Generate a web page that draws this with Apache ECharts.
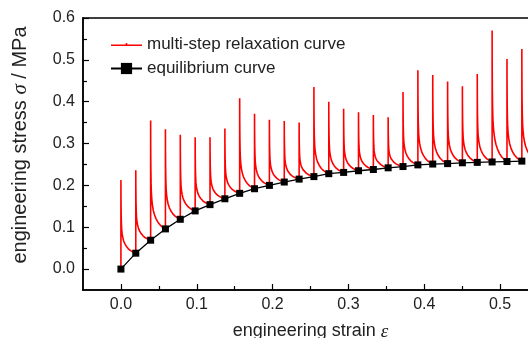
<!DOCTYPE html>
<html>
<head>
<meta charset="utf-8">
<script src="https://cdn.jsdelivr.net/npm/echarts@6/dist/echarts.min.js"></script>
<style>html,body{margin:0;padding:0;background:#fff}#c{width:528px;height:338px}</style>
</head>
<body>
<div id="c"></div>
<script>
// strain at each relaxation step
var strain = [0, 0.0196, 0.0392, 0.0587, 0.0783, 0.0979, 0.1175, 0.1371, 0.1566, 0.1762,
  0.1958, 0.2154, 0.2350, 0.2545, 0.2741, 0.2937, 0.3133, 0.3329, 0.3524, 0.3720,
  0.3916, 0.4112, 0.4308, 0.4503, 0.4699, 0.4895, 0.5091, 0.5287];
// equilibrium stress (MPa)
var eqStress = [0, 0.038, 0.069, 0.096, 0.119, 0.139, 0.154, 0.168, 0.181, 0.192,
  0.200, 0.208, 0.215, 0.221, 0.228, 0.231, 0.235, 0.238, 0.242, 0.245,
  0.249, 0.251, 0.252, 0.254, 0.255, 0.256, 0.257, 0.258];
// peak stress of each relaxation step (MPa)
var peakStress = [0.213, 0.236, 0.355, 0.334, 0.321, 0.315, 0.315, 0.336, 0.408, 0.371,
  0.357, 0.354, 0.350, 0.435, 0.400, 0.383, 0.375, 0.368, 0.363, 0.423,
  0.475, 0.464, 0.448, 0.437, 0.466, 0.570, 0.502, 0.526];
// relaxation shape: fraction of step vs fraction of overstress remaining
var decayT = [0.005, 0.015, 0.03, 0.05, 0.08, 0.12, 0.18, 0.26, 0.36, 0.5, 0.65, 0.8, 0.92, 1.0];
var decayF = [0.75, 0.55, 0.42, 0.33, 0.27, 0.22, 0.17, 0.13, 0.095, 0.06, 0.035, 0.017, 0.006, 0];
var xTicks = [0, 0.1, 0.2, 0.3, 0.4, 0.5];
var xMinor = [0.05, 0.15, 0.25, 0.35, 0.45, 0.55];
var yTicks = [0, 0.1, 0.2, 0.3, 0.4, 0.5, 0.6];
var yMinor = [0.05, 0.15, 0.25, 0.35, 0.45, 0.55];

var relax = [];
for (var i = 0; i < strain.length; i++) {
  relax.push([strain[i], eqStress[i]]);
  relax.push([strain[i], peakStress[i]]);
  var last = i === strain.length - 1;
  var dx = last ? strain[i] - strain[i - 1] : strain[i + 1] - strain[i];
  var target = last ? eqStress[i] : eqStress[i + 1];
  for (var k = 0; k < decayT.length; k++) {
    if (!last && k === decayT.length - 1) { relax.push([strain[i + 1], target]); continue; }
    relax.push([strain[i] + decayT[k] * dx, target + decayF[k] * (peakStress[i] - target)]);
  }
}
var equil = strain.map(function (s, i) { return [s, eqStress[i]]; });

var font = 'Liberation Sans, Arial, sans-serif';
var txt = '#222';
var chart = echarts.init(document.getElementById('c'), null, {renderer: 'canvas'});
var grid = {left: 83, top: 18, right: -10, bottom: 48, containLabel: false, outerBoundsMode: 'none'};
function baseX(extra) {
  return Object.assign({
    type: 'value', min: -0.05, max: 0.55, gridIndex: 0,
    splitLine: {show: false},
    axisLine: {show: true, onZero: false, lineStyle: {color: '#000', width: 1.5}}
  }, extra);
}
function baseY(extra) {
  return Object.assign({
    type: 'value', min: -0.05, max: 0.6, gridIndex: 0,
    splitLine: {show: false},
    axisLine: {show: true, onZero: false, lineStyle: {color: '#000', width: 1.5}}
  }, extra);
}
chart.setOption({
  animation: false,
  backgroundColor: '#fff',
  grid: grid,
  legend: {
    left: 105, top: 31, orient: 'vertical', itemWidth: 31, itemHeight: 14, itemGap: 7,
    textStyle: {fontFamily: font, fontSize: 17, color: txt},
    data: [
      {name: 'multi-step relaxation curve', icon: 'path://M0,9h32v1.6h-32z M15.2,7.4h1.6v3.2h-1.6z'},
      {name: 'equilibrium curve'}
    ]
  },
  xAxis: [
    baseX({
      position: 'bottom',
      name: 'engineering strain {i|ε}', nameLocation: 'middle', nameGap: 32,
      nameTextStyle: {fontFamily: font, fontSize: 18, color: txt,
        rich: {i: {fontFamily: 'Liberation Serif, serif', fontStyle: 'italic', fontSize: 19, color: txt}}},
      axisTick: {show: true, inside: true, length: 6, lineStyle: {color: '#000', width: 1.2}, customValues: xTicks},
      axisLabel: {show: true, margin: 7, fontFamily: font, fontSize: 16, color: txt, customValues: xTicks,
        formatter: function (v) { return v.toFixed(1); }}
    }),
    baseX({
      position: 'bottom',
      axisTick: {show: true, inside: true, length: 4, lineStyle: {color: '#000', width: 1.2}, customValues: xMinor},
      axisLabel: {show: false}
    }),
    baseX({
      position: 'top',
      axisTick: {show: false}, axisLabel: {show: false}
    })
  ],
  yAxis: [
    baseY({
      position: 'left',
      name: 'engineering stress {i|σ} / MPa', nameLocation: 'middle', nameGap: 52,
      nameTextStyle: {fontFamily: font, fontSize: 20, color: txt, padding: [0, 0, 0, 18],
        rich: {i: {fontFamily: 'Liberation Serif, serif', fontStyle: 'italic', fontSize: 21, color: txt}}},
      axisTick: {show: true, inside: true, length: 6, lineStyle: {color: '#000', width: 1.2}, customValues: yTicks},
      axisLabel: {show: true, margin: 8, fontFamily: font, fontSize: 16, color: txt, customValues: yTicks,
        formatter: function (v) { return v.toFixed(1); }}
    }),
    baseY({
      position: 'left',
      axisTick: {show: true, inside: true, length: 4, lineStyle: {color: '#000', width: 1.2}, customValues: yMinor},
      axisLabel: {show: false}
    })
  ],
  series: [
    {
      name: 'multi-step relaxation curve', type: 'line', xAxisIndex: 0, yAxisIndex: 0,
      data: relax, showSymbol: false, symbol: 'none', smooth: false, clip: true,
      itemStyle: {color: '#ff0000'},
      lineStyle: {color: '#ff0000', width: 1.6}, z: 2
    },
    {
      name: 'equilibrium curve', type: 'line', xAxisIndex: 0, yAxisIndex: 0,
      data: equil, symbol: 'rect', symbolSize: 7, clip: true,
      itemStyle: {color: '#000'},
      lineStyle: {color: '#000', width: 1.3}, z: 3
    }
  ]
});
</script>
</body>
</html>
